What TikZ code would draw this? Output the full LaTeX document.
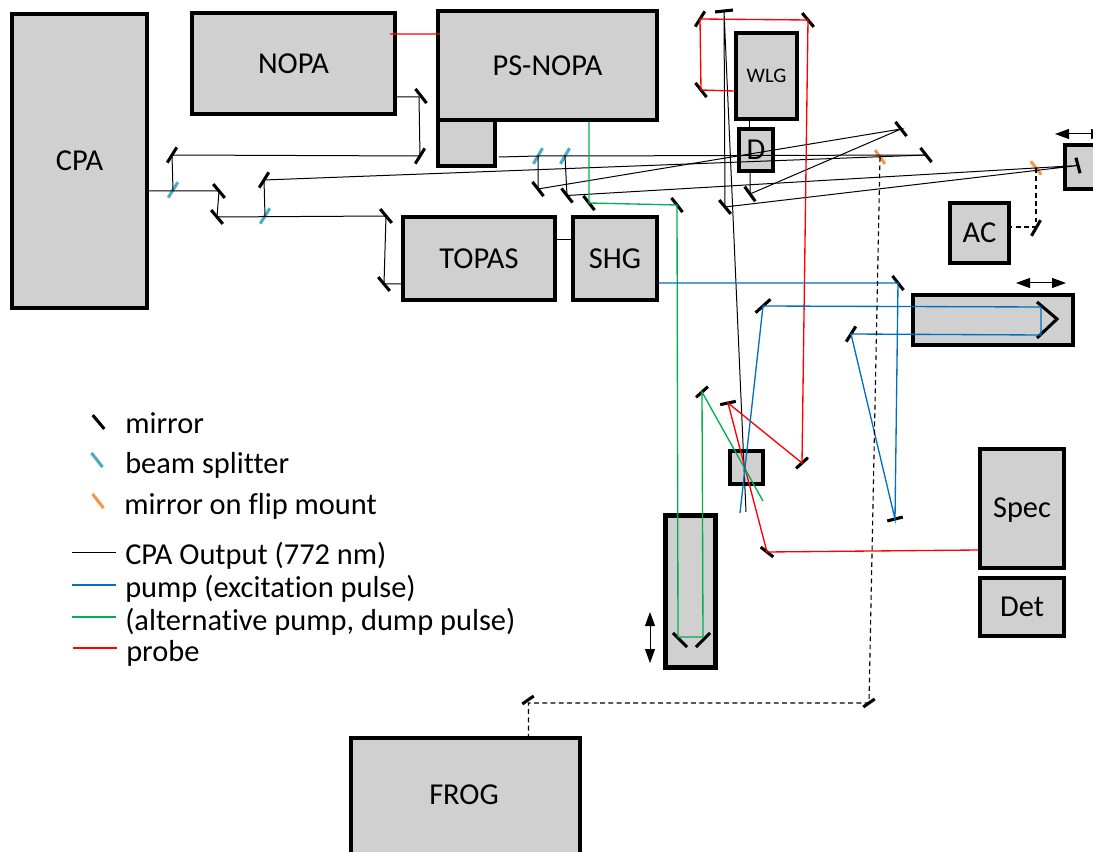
\documentclass[tikz,border=0pt]{standalone}
\usepackage{fontspec}
\setmainfont{Carlito}[Ligatures=NoCommon]
\usetikzlibrary{arrows.meta,calc}
\definecolor{boxfill}{RGB}{208,208,208}
\definecolor{pumpb}{RGB}{0,112,192}
\definecolor{altg}{RGB}{0,176,80}
\definecolor{probe}{RGB}{255,0,0}
\definecolor{bsc}{RGB}{75,172,198}
\definecolor{flipc}{RGB}{247,150,70}
\tikzset{
  x=0.75pt,y=-0.75pt,
  box/.style={draw=black,fill=boxfill,line width=3.2pt,inner sep=0pt,outer sep=0pt,anchor=north west,font=\fontsize{22.8}{26}\selectfont},
  cpabeam/.style={draw=black,line width=0.75pt},
  pumpbeam/.style={draw=pumpb,line width=1pt},
  altbeam/.style={draw=altg,line width=1pt},
  probebeam/.style={draw=probe,line width=1pt},
  dashbeam/.style={draw=black,line width=0.85pt,dash pattern=on 3.6pt off 2.6pt},
  optic/.style={line width=2.3pt,line cap=butt},
  legtext/.style={anchor=base west,inner sep=0pt,font=\fontsize{22.8}{26}\selectfont},
  boxlabel/.style={anchor=center,inner sep=0pt,font=\fontsize{22.8}{26}\selectfont},
  move/.style={draw=black,line width=0.75pt,{Triangle[length=10.5pt,width=7.5pt]}-{Triangle[length=10.5pt,width=7.5pt]}}
}
% \opt{name}{x}{y}{angle}{half length}{colour}
\newcommand{\opt}[6]{\coordinate (#1) at (#2,#3);
  \draw[optic,draw=#6] ($(#1)+(#4:#5)$) -- ($(#1)+(#4+180:#5)$);}
\newcommand{\boxn}[7]{\node[box,minimum width=#4*0.75pt,minimum height=#5*0.75pt,#7] (#1) at (#2,#3) {#6};}
\begin{document}
\begin{tikzpicture}
\useasboundingbox (0,0) rectangle (1093,852);
\fill[white] (0,0) rectangle (1093,852);
% boxes
\boxn{CPA}{12}{14}{135}{294}{CPA}{}
\boxn{NOPA}{192}{13}{203}{101}{NOPA}{}
\boxn{SMALL}{438}{120}{57}{46}{}{}
\boxn{PS}{438}{11}{219}{109}{PS-NOPA}{}
\boxn{TOPAS}{403}{217}{152}{83}{TOPAS}{}
\boxn{SHG}{573}{217}{84}{83}{SHG}{}
\boxn{WLG}{736}{33}{61}{86}{\fontsize{15.5}{18}\selectfont WLG}{}
\boxn{D}{739}{129}{34}{42}{D}{}
\boxn{AC}{950}{203}{59}{60}{AC}{}
\boxn{STAGE}{913}{295}{160}{50}{}{}
\boxn{STAGEB}{1065}{145}{50}{44}{}{}
\boxn{SAMPLE}{730}{451}{33}{33}{}{}
\boxn{DELAY}{665.5}{515.5}{50}{152}{}{}
\boxn{SPEC}{980}{449}{84}{119}{}{}
\node[boxlabel] (SPECt) at (1022,510) {Spec};
\boxn{DET}{980}{578}{84}{58}{Det}{}
\boxn{FROG}{351}{738}{229}{135}{}{}
\node[boxlabel] (FROGt) at (464,795) {FROG};
% optics
\opt{mA}{172}{155}{-58}{9}{black}
\opt{mB}{219}{191}{50}{9}{black}
\opt{mC}{217}{217}{50}{9}{black}
\opt{mD}{264}{180}{-58}{9}{black}
\opt{mE}{386}{216}{50}{9}{black}
\opt{mF}{384}{284}{50}{9}{black}
\opt{mG}{421}{96}{52}{9}{black}
\opt{mH}{420}{156}{-58}{9}{black}
\opt{mI}{538}{189}{52}{9}{black}
\opt{mJ}{567}{195.5}{52}{9}{black}
\opt{mK}{589}{203}{52}{9}{black}
\opt{mL}{677}{205}{52}{9}{black}
\opt{mM}{700}{19}{-58}{9}{black}
\opt{mN}{724}{11}{-6}{9}{black}
\opt{mO}{808}{20}{50}{9}{black}
\opt{mP}{701}{90}{52}{9}{black}
\opt{mQ}{901}{129}{52}{9}{black}
\opt{mR}{926}{155}{52}{9}{black}
\opt{mS}{750}{194}{54}{9}{black}
\opt{mT}{725}{207}{50}{9}{black}
\opt{mU}{1078}{165.5}{75}{8}{black}
\opt{mV}{1036}{228}{-60}{9}{black}
\opt{mW}{898}{283}{52}{9}{black}
\opt{mX}{763}{306}{-42}{10}{black}
\opt{mY}{851}{334}{-58}{9}{black}
\opt{mZ}{895}{519}{-14}{8}{black}
\opt{nA}{702}{392}{-42}{8}{black}
\opt{nB}{728}{403}{-12}{8}{black}
\opt{nC}{802}{463}{-42}{8}{black}
\opt{nD}{767}{552}{38}{8}{black}
\opt{nE}{680}{640}{45}{10}{black}
\opt{nF}{703}{640}{-45}{10}{black}
\opt{nG}{869}{703}{-35}{7}{black}
\opt{nH}{528}{700}{-35}{7}{black}
\opt{bA}{173}{190}{-58}{9}{bsc}
\opt{bB}{265}{216}{-58}{9}{bsc}
\opt{bC}{538}{156}{-60}{9}{bsc}
\opt{bD}{565}{156}{-60}{9}{bsc}
\opt{fA}{880}{157}{54}{8.5}{flipc}
\opt{fB}{1036}{168}{52}{8.5}{flipc}
\coordinate (rTop) at (1037,302);\coordinate (rTip) at (1057,319);\coordinate (rBot) at (1037,338);
\draw[optic,line join=miter] (rTop) -- (rTip) -- (rBot);
% CPA beam
\draw[cpabeam] (149,191) coordinate (cpaOut) -- (mB) -- (mC) -- (mE) -- (mF) -- (403,284);
\draw[cpabeam] (bA) -- (mA) -- (mH);
\draw[cpabeam] (bB) -- (mD) -- (mR);
\draw[cpabeam] (397,97) coordinate (nopaOut) -- (419,97) coordinate (gc) -- (mH);
\draw[cpabeam] (TOPAS.east |- 0,240) -- (SHG.west |- 0,240);
\draw[cpabeam] (499,157) coordinate (smallOut) -- (bC) -- (bD) -- (mR);
\draw[cpabeam] (bC) -- (mI) -- (mQ) -- (mS) -- (750,173) coordinate (dIn);
\draw[cpabeam] (749,127) coordinate (dTop) -- (749,121) coordinate (wIn);
\draw[cpabeam] (bD) -- (mJ) -- (mU) -- (mT) -- (mN) -- (746,512) coordinate (cpaEnd);
% probe
\draw[probebeam,draw opacity=0.65] (390,34) coordinate (nOut) -- (440,34) coordinate (pIn);
\draw[probebeam] (734,91) coordinate (wOut) -- (mP) -- (mM) -- (mO) -- (nC) -- (nB) -- (nD) -- (978,550) coordinate (specIn);
% alt pump
\draw[altbeam] (589,122) coordinate (pOut) -- (mK) -- (mL) -- (678,637) coordinate (d1) -- (703,637) coordinate (d2) -- (nA) -- (763,501) coordinate (altEnd);
% pump
\draw[pumpbeam] (659,283) coordinate (sOut) -- (mW) -- (mZ) -- (mY) -- (1041,335) coordinate (r1) -- (1041,307) coordinate (r2) -- (mX) -- (740,513) coordinate (pumpEnd);
% dashed
\coordinate (nHc) at (528.5,703);
\draw[dashbeam] (fA) -- (nG) -- (nHc) -- (528.5,737) coordinate (frogIn);
\draw[dashbeam] (fB) -- (1036,227) coordinate (vc) -- (1011,227) coordinate (acIn);
% motion arrows
\draw[move] (1055,134) coordinate (a1) -- (1105,134) coordinate (a2);
\draw[move] (1016,283) coordinate (a3) -- (1066,283) coordinate (a4);
\draw[move] (650,612) coordinate (a5) -- (650,663) coordinate (a6);
% legend
\opt{lA}{98.5}{422}{50}{9}{black}
\opt{lB}{97}{460}{52}{9}{bsc}
\opt{lC}{98}{501}{52}{9}{flipc}
\node[legtext] (t1) at (125,433) {mirror};
\node[legtext] (t2) at (125,473) {beam splitter};
\node[legtext] (t3) at (124,514) {mirror on flip mount};
\node[legtext] (t4) at (125,564) {CPA Output (772 nm)};
\node[legtext] (t5) at (125,597) {pump (excitation pulse)};
\node[legtext] (t6) at (125,630) {(alternative pump, dump pulse)};
\node[legtext] (t7) at (126,661) {probe};
\draw[cpabeam] (72,552) coordinate (k1) -- (116,552) coordinate (k2);
\draw[pumpbeam] (72,585) coordinate (k3) -- (116,585) coordinate (k4);
\draw[altbeam] (72,617) coordinate (k5) -- (116,617) coordinate (k6);
\draw[probebeam] (73,648) coordinate (k7) -- (117,648) coordinate (k8);
\end{tikzpicture}
\end{document}
